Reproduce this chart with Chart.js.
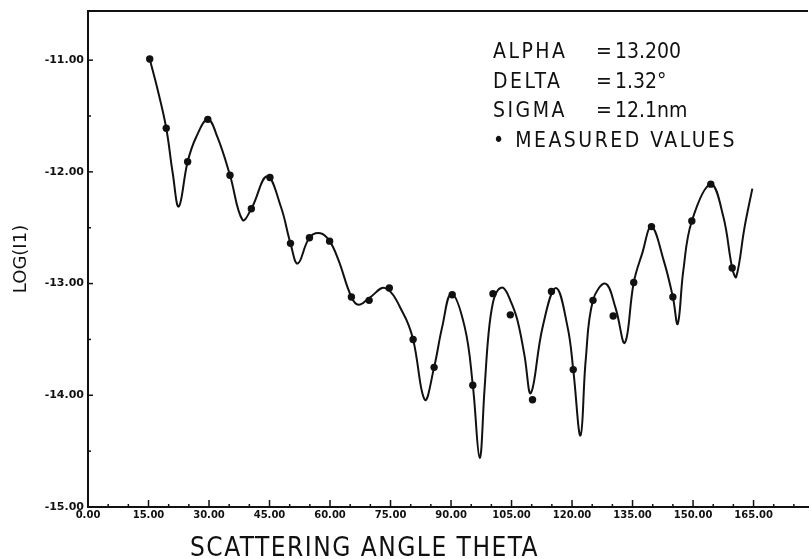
<!DOCTYPE html>
<html>
<head>
<meta charset="utf-8">
<title>LOG(I1) vs scattering angle</title>
<script src="https://cdn.jsdelivr.net/npm/chart.js@4.4.1/dist/chart.umd.min.js"></script>
<style>
  html, body { margin: 0; padding: 0; background: #fff; }
  #wrap { width: 812px; height: 559px; }
</style>
</head>
<body>
<div id="wrap"><canvas id="scatterChart" width="812" height="559"></canvas></div>
<script>
// fitted curve (theta in degrees, log intensity)
const curveTheta = [15.3, 17.3, 19.4, 21.0, 22.5, 24.7, 26.8, 29.7, 32.1, 35.2,
  38.3, 40.5, 44.4, 47.8, 50.2, 52.0, 54.9, 57.6, 59.9, 62.1,
  65.3, 67.1, 69.7, 73.7, 78.2, 80.6, 83.5, 85.8, 87.8, 90.1,
  93.4, 95.4, 97.1, 98.3, 99.3, 100.4, 101.6, 103.0, 104.7, 106.4,
  108.2, 109.8, 112.7, 116.0, 118.9, 120.3, 122.1, 123.4, 125.2, 128.3,
  130.8, 133.1, 135.3, 137.4, 139.7, 142.7, 145.0, 146.2, 147.6, 149.7,
  154.4, 157.5, 159.7, 160.7, 162.8, 164.7];
const curveLog = [-10.99, -11.27, -11.61, -12.01, -12.31, -11.91, -11.69, -11.53, -11.69, -12.03,
  -12.43, -12.33, -12.04, -12.31, -12.64, -12.82, -12.59, -12.55, -12.62, -12.79,
  -13.12, -13.19, -13.13, -13.04, -13.27, -13.50, -14.04, -13.75, -13.39, -13.09,
  -13.39, -13.91, -14.56, -13.95, -13.45, -13.17, -13.06, -13.04, -13.15, -13.32,
  -13.64, -13.98, -13.39, -13.04, -13.39, -13.77, -14.36, -13.68, -13.15, -13.00,
  -13.22, -13.53, -12.99, -12.73, -12.49, -12.79, -13.12, -13.36, -12.88, -12.44,
  -12.11, -12.40, -12.86, -12.94, -12.49, -12.15];

// measured values
const measuredTheta = [15.3, 19.4, 24.7, 29.7, 35.2, 40.5, 45.1, 50.2, 54.9, 59.9,
  65.3, 69.7, 74.7, 80.6, 85.8, 90.3, 95.4, 100.4, 104.7, 110.2,
  114.9, 120.3, 125.2, 130.2, 135.3, 139.7, 145.0, 149.7, 154.4, 159.7];
const measuredLog = [-10.99, -11.61, -11.91, -11.53, -12.03, -12.33, -12.05, -12.64, -12.59, -12.62,
  -13.12, -13.15, -13.04, -13.50, -13.75, -13.10, -13.91, -13.09, -13.28, -14.04,
  -13.07, -13.77, -13.15, -13.29, -12.99, -12.49, -13.12, -12.44, -12.11, -12.86];

// axis labels
const xMajor = [0, 15, 30, 45, 60, 75, 90, 105, 120, 135, 150, 165];
const yMajor = [-15, -14, -13, -12, -11];
const xTitle = 'SCATTERING ANGLE THETA';

// fit parameters
const paramNames = ['ALPHA', 'DELTA', 'SIGMA'];
const paramValues = ['13.200', '1.32°', '12.1nm'];

const INK = '#111';
const PLOT_FONT = '"DejaVu Sans Condensed", "Liberation Sans Narrow", "DejaVu Sans", sans-serif';

// top frame line + inward tick marks
const frameTicks = {
  id: 'frameTicks',
  afterDraw(chart) {
    const { ctx, chartArea: a, scales: { x, y } } = chart;
    ctx.save();
    ctx.strokeStyle = INK;
    ctx.lineWidth = 2;
    ctx.beginPath();
    ctx.moveTo(a.left, a.top);
    ctx.lineTo(a.right, a.top);
    ctx.stroke();

    ctx.lineWidth = 1.5;
    for (let t = 5; t <= x.max; t += 5) {
      const px = x.getPixelForValue(t);
      const len = t % 15 === 0 ? 7 : 3;
      ctx.beginPath();
      ctx.moveTo(px, a.bottom);
      ctx.lineTo(px, a.bottom - len);
      ctx.stroke();
    }
    for (let v = -14.5; v <= y.max; v += 0.5) {
      const py = y.getPixelForValue(v);
      const len = Number.isInteger(v) ? 5 : 3;
      ctx.beginPath();
      ctx.moveTo(a.left, py);
      ctx.lineTo(a.left + len, py);
      ctx.stroke();
    }
    ctx.restore();
  }
};

// x axis title (plotter lettering, set left of centre) and the parameter block
const plotterText = {
  id: 'plotterText',
  afterDraw(chart) {
    const { ctx, chartArea: a } = chart;
    ctx.save();
    ctx.fillStyle = INK;
    ctx.textBaseline = 'alphabetic';

    ctx.font = '26px ' + PLOT_FONT;
    ctx.letterSpacing = '1.5px';
    ctx.textAlign = 'left';
    ctx.fillText(xTitle, a.left + 102, 556);

    const x0 = a.left + 405;
    const y0 = a.top + 47;
    const step = 29.5;
    ctx.font = '21px ' + PLOT_FONT;
    paramNames.forEach((name, i) => {
      const yy = y0 + i * step;
      ctx.letterSpacing = '2.5px';
      ctx.fillText(name, x0, yy);
      ctx.letterSpacing = '0px';
      ctx.fillText('=', x0 + 103, yy);
      ctx.fillText(paramValues[i], x0 + 122, yy);
    });
    ctx.letterSpacing = '2.5px';
    ctx.fillText('• MEASURED VALUES', x0, y0 + 3 * step);
    ctx.restore();
  }
};

const ctx = document.getElementById('scatterChart').getContext('2d');

new Chart(ctx, {
  type: 'scatter',
  data: {
    datasets: [
      {
        type: 'line',
        label: 'Fit',
        data: curveTheta.map((t, i) => ({ x: t, y: curveLog[i] })),
        borderColor: INK,
        borderWidth: 2,
        pointRadius: 0,
        fill: false,
        tension: 0.4
      },
      {
        label: 'MEASURED VALUES',
        data: measuredTheta.map((t, i) => ({ x: t, y: measuredLog[i] })),
        backgroundColor: INK,
        borderWidth: 0,
        pointRadius: 3.7
      }
    ]
  },
  options: {
    responsive: false,
    animation: false,
    devicePixelRatio: 1,
    layout: { padding: { top: 11, left: 0, right: 0, bottom: 0 } },
    plugins: {
      legend: { display: false },
      tooltip: { enabled: false }
    },
    scales: {
      x: {
        type: 'linear',
        min: 0,
        max: 178.5,
        afterBuildTicks: (s) => { s.ticks = xMajor.map(v => ({ value: v })); },
        afterFit: (s) => { s.height = 52; },
        grid: { display: false, drawTicks: false },
        border: { display: true, color: INK, width: 2 },
        ticks: {
          autoSkip: false,
          maxRotation: 0,
          padding: 2,
          color: INK,
          font: { family: 'DejaVu Sans', weight: 'bold', size: 10 },
          callback: (v) => Number(v).toFixed(2)
        },
        title: { display: false }
      },
      y: {
        type: 'linear',
        min: -15,
        max: -10.56,
        afterBuildTicks: (s) => { s.ticks = yMajor.map(v => ({ value: v })); },
        afterFit: (s) => { s.width = 88; },
        grid: { display: false, drawTicks: false },
        border: { display: true, color: INK, width: 2 },
        ticks: {
          padding: 4,
          color: INK,
          font: { family: 'DejaVu Sans', weight: 'bold', size: 11 },
          callback: (v) => Number(v).toFixed(2)
        },
        title: {
          display: true,
          text: 'LOG(I1)',
          color: INK,
          font: { family: 'DejaVu Sans', size: 18, lineHeight: 1 },
          padding: { top: 12, bottom: 0 }
        }
      }
    }
  },
  plugins: [frameTicks, plotterText]
});
</script>
</body>
</html>
